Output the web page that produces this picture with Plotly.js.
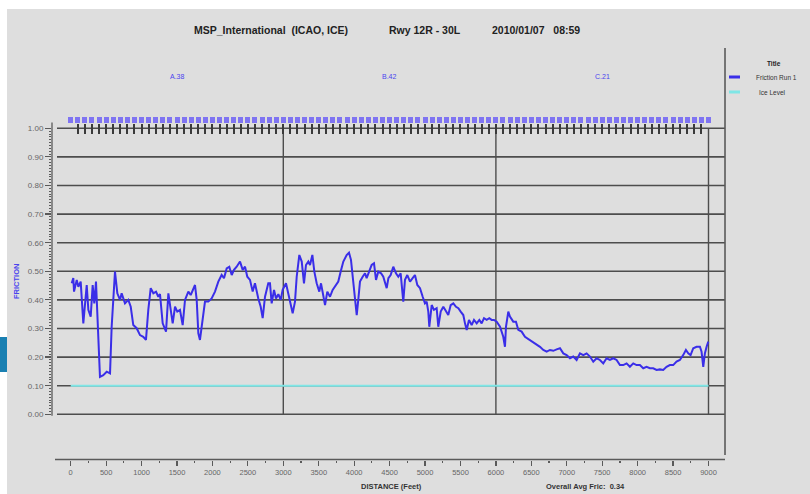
<!DOCTYPE html>
<html>
<head>
<meta charset="utf-8">
<script src="https://cdn.plot.ly/plotly-3.0.1.min.js"></script>
<style>html,body{margin:0;padding:0;background:#fff;}#chart{width:810px;height:494px;}</style>
</head>
<body>
<div id="chart"></div>
<script>
// ---- data ----
const distance = [
  14,37,47,85,108,141,178,226,249,282,
  310,333,357,390,413,460,508,555,578,625,
  658,696,719,766,813,847,883,931,978,1024,
  1062,1095,1129,1166,1204,1236,1260,1298,1345,1378,
  1401,1439,1472,1504,1542,1580,1613,1660,1693,1730,
  1754,1778,1801,1824,1862,1895,1942,1989,2036,2083,
  2130,2163,2201,2238,2272,2304,2342,2389,2427,2460,
  2492,2530,2568,2600,2647,2681,2709,2742,2788,2812,
  2836,2869,2897,2930,2963,2991,3038,3071,3104,3132,
  3165,3189,3226,3260,3292,3320,3353,3377,3410,3438,
  3471,3508,3532,3565,3589,3621,3659,3696,3729,3776,
  3810,3847,3894,3927,3955,3988,4012,4036,4060,4082,
  4120,4153,4176,4214,4247,4280,4308,4341,4379,4411,
  4459,4483,4515,4552,4590,4623,4656,4693,4717,4750,
  4788,4825,4858,4891,4929,4967,4999,5023,5046,5060,
  5094,5126,5164,5187,5221,5258,5296,5328,5362,5399,
  5437,5470,5503,5540,5564,5588,5620,5658,5691,5729,
  5766,5799,5832,5870,5907,5940,5973,6011,6058,6104,
  6128,6142,6175,6198,6245,6283,6316,6363,6410,6481,
  6551,6622,6669,6716,6763,6810,6857,6904,6951,6998,
  7045,7092,7139,7186,7233,7280,7327,7374,7421,7468,
  7515,7562,7609,7656,7703,7750,7797,7844,7891,7938,
  7985,8032,8079,8126,8173,8220,8267,8314,8361,8408,
  8455,8502,8549,8596,8643,8681,8714,8747,8785,8832,
  8879,8902,8926,8949,8973,8997
];
const frictionRun1 = [
  .458,.476,.429,.47,.446,.464,.318,.452,.365,.341,
  .452,.388,.464,.248,.131,.137,.149,.143,.306,.499,
  .423,.40,.423,.388,.40,.376,.312,.301,.277,.271,
  .26,.365,.441,.423,.429,.411,.42,.318,.289,.423,
  .376,.318,.376,.359,.365,.312,.40,.429,.417,.441,
  .452,.40,.283,.26,.33,.394,.394,.405,.429,.464,
  .487,.476,.51,.516,.487,.505,.516,.534,.505,.516,
  .481,.47,.429,.458,.405,.376,.336,.411,.458,.458,
  .388,.435,.405,.42,.40,.435,.458,.423,.382,.353,
  .394,.481,.557,.534,.458,.522,.534,.522,.557,.499,
  .458,.429,.458,.417,.382,.429,.411,.435,.446,.464,
  .499,.534,.557,.565,.54,.47,.405,.347,.405,.464,
  .481,.493,.476,.499,.522,.528,.47,.499,.493,.481,
  .441,.476,.487,.516,.493,.481,.493,.394,.47,.487,
  .464,.476,.487,.452,.441,.411,.388,.394,.359,.306,
  .382,.365,.371,.306,.359,.376,.359,.347,.382,.388,
  .376,.371,.359,.347,.318,.295,.33,.312,.33,.318,
  .33,.318,.336,.33,.336,.33,.33,.324,.306,.271,
  .236,.306,.359,.342,.324,.324,.295,.289,.271,.26,
  .248,.236,.225,.219,.225,.222,.227,.231,.213,.207,
  .196,.202,.19,.213,.207,.213,.202,.184,.196,.19,
  .178,.196,.19,.196,.19,.172,.172,.178,.166,.178,
  .172,.172,.161,.166,.161,.161,.155,.157,.155,.166,
  .172,.172,.184,.19,.207,.225,.213,.207,.231,.236,
  .236,.219,.166,.213,.236,.254
];
const iceDistance = [0, 9000];
const iceLevel = [0.10, 0.10];
const sectionLabels = ["A.38", "B.42", "C.21"];
const sectionCenters = [1500, 4500, 7500];
const verticalGrid = [3000, 6000, 9000];
const yTicks = [0, 0.1, 0.2, 0.3, 0.4, 0.5, 0.6, 0.7, 0.8, 0.9, 1.0];
const titleParts = ["MSP_International\u00a0 (ICAO, ICE)", "Rwy 12R - 30L", "2010/01/07\u00a0\u00a0 08:59"];
const avgText = "Overall Avg Fric:\u00a0 0.34";

// ---- pixel helpers (plot area: left 52, right 725, top 40, bottom 460) ----
const L = 52, R = 725, T = 40, B = 460;
const px = x => (x - L) / (R - L);
const py = y => (B - y) / (B - T);

const FONT = "Liberation Sans, Arial, sans-serif";
const gridColor = "#4d4d4d";
const axisColor = "#5a5a5a";

const shapes = [];
shapes.push({type:"rect", xref:"paper", yref:"paper", x0:-0.2, x1:1.3, y0:py(9), y1:1.3, fillcolor:"#ffffff", line:{width:0}, layer:"below"});
shapes.push({type:"rect", xref:"paper", yref:"paper", x0:-0.2, x1:px(7), y0:-0.2, y1:1.3, fillcolor:"#ffffff", line:{width:0}, layer:"below"});
shapes.push({type:"rect", xref:"paper", yref:"paper", x0:-0.2, x1:px(7), y0:py(372), y1:py(337), fillcolor:"#1a80b2", line:{width:0}, layer:"below"});
yTicks.forEach(v => shapes.push({type:"line", xref:"paper", yref:"y", x0:px(57), x1:1, y0:v, y1:v, line:{color:gridColor, width:1.6}, layer:"below"}));
verticalGrid.forEach(v => shapes.push({type:"line", xref:"x", yref:"y", x0:v, x1:v, y0:0, y1:1, line:{color:gridColor, width:1.4}, layer:"below"}));
shapes.push({type:"line", xref:"paper", yref:"y", x0:0, x1:0, y0:-0.005, y1:1.02, line:{color:axisColor, width:1.3}});
shapes.push({type:"line", xref:"paper", yref:"paper", x0:px(55), x1:1, y0:py(459.5), y1:py(459.5), line:{color:axisColor, width:1.6}});
shapes.push({type:"line", xref:"paper", yref:"paper", x0:1, x1:1, y0:py(455), y1:py(48), line:{color:axisColor, width:1.6}});
shapes.push({type:"line", xref:"paper", yref:"paper", x0:px(729), x1:px(740), y0:py(77), y1:py(77), line:{color:"#3a2ee8", width:3}});
shapes.push({type:"line", xref:"paper", yref:"paper", x0:px(729), x1:px(740), y0:py(92), y1:py(92), line:{color:"#7fe6e6", width:3}});

const yMinor = []; for (let i = 0; i <= 100; i++) if (i % 10) yMinor.push(i / 100);
const xMinor = []; for (let v = 250; v < 9000; v += 500) xMinor.push(v);

const annotations = [];
const tx = [192, 387, 490];
titleParts.forEach((t, i) => annotations.push({xref:"paper", yref:"paper", x:px(tx[i]), y:py(30), xanchor:"left", yanchor:"middle", text:"<b>"+t+"</b>", showarrow:false, font:{family:FONT, size:10.5, color:"#222"}}));
sectionLabels.forEach((t, i) => annotations.push({xref:"x", yref:"paper", x:sectionCenters[i], y:py(76), xanchor:"center", yanchor:"middle", text:t, showarrow:false, font:{family:FONT, size:7, color:"#4a44ee"}}));
annotations.push({xref:"paper", yref:"paper", x:px(16), y:py(282), text:"<b>FRICTION</b>", textangle:-90, showarrow:false, xanchor:"center", yanchor:"middle", font:{family:FONT, size:7.5, color:"#4a44ee"}});
annotations.push({xref:"paper", yref:"paper", x:px(391), y:py(486), text:"<b>DISTANCE (Feet)</b>", showarrow:false, xanchor:"center", yanchor:"middle", font:{family:FONT, size:7.5, color:"#333"}});
annotations.push({xref:"paper", yref:"paper", x:px(585), y:py(486), text:"<b>"+avgText+"</b>", showarrow:false, xanchor:"center", yanchor:"middle", font:{family:FONT, size:7.5, color:"#333"}});
annotations.push({xref:"paper", yref:"paper", x:px(774), y:py(63), text:"<b>Title</b>", showarrow:false, xanchor:"center", yanchor:"middle", font:{family:FONT, size:6.5, color:"#222"}});
annotations.push({xref:"paper", yref:"paper", x:px(776), y:py(77), text:"Friction Run 1", showarrow:false, xanchor:"center", yanchor:"middle", font:{family:FONT, size:6.5, color:"#333"}});
annotations.push({xref:"paper", yref:"paper", x:px(772), y:py(92), text:"Ice Level", showarrow:false, xanchor:"center", yanchor:"middle", font:{family:FONT, size:6.5, color:"#333"}});

const traces = [
  {x: iceDistance, y: iceLevel, type:"scatter", mode:"lines", name:"Ice Level", line:{color:"#7fe6e6", width:2}, hoverinfo:"skip"},
  {x: distance, y: frictionRun1, type:"scatter", mode:"lines", name:"Friction Run 1", line:{color:"#3a2ee8", width:2}},
  {x: [], y: [], xaxis:"x2", yaxis:"y", type:"scatter", mode:"lines", showlegend:false, hoverinfo:"skip"},
  {x: [], y: [], xaxis:"x3", yaxis:"y", type:"scatter", mode:"lines", showlegend:false, hoverinfo:"skip"}
];

const segDomain = [px(70.7), px(708.5)];
const layout = {
  width: 810, height: 494,
  margin: {l: L, r: 810 - R, t: T, b: 494 - B, pad: 0},
  paper_bgcolor: "#dedede",
  plot_bgcolor: "rgba(0,0,0,0)",
  showlegend: false,
  xaxis: {
    range: [-263.9, 9232.8], showgrid:false, zeroline:false, showline:false,
    tickmode:"linear", tick0:0, dtick:500, ticks:"outside", ticklen:5, tickwidth:1.2, tickcolor:axisColor,
    minor: {tickmode:"array", tickvals:xMinor, ticks:"outside", ticklen:2, tickwidth:1.2, tickcolor:axisColor},
    tickfont:{family:FONT, size:7.5, color:"#666"}, fixedrange:true
  },
  xaxis2: {
    domain: segDomain, range:[0, 9000], anchor:"free", position: py(123), side:"top",
    tickmode:"linear", tick0:0, dtick:100, ticks:"inside", ticklen:10, tickwidth:2, tickcolor:"#3a3a3a",
    showticklabels:false, showgrid:false, zeroline:false, showline:false, fixedrange:true
  },
  xaxis3: {
    domain: segDomain, range:[0, 9000], anchor:"free", position: py(123), side:"top",
    tickmode:"linear", tick0:0, dtick:100, ticks:"outside", ticklen:6, tickwidth:5, tickcolor:"#7f74f2",
    showticklabels:false, showgrid:false, zeroline:false, showline:false, fixedrange:true
  },
  yaxis: {
    range: [-0.1598, 1.3087], showgrid:false, zeroline:false, showline:false,
    tickmode:"array", tickvals:yTicks, tickformat:".2f", ticks:"outside", ticklen:6, tickwidth:1.2, tickcolor:axisColor,
    minor: {tickmode:"array", tickvals:yMinor, ticks:"outside", ticklen:2, tickwidth:1, tickcolor:axisColor},
    tickfont:{family:FONT, size:8, color:"#666"}, fixedrange:true
  },
  shapes: shapes,
  annotations: annotations
};

Plotly.newPlot("chart", traces, layout, {displayModeBar:false, staticPlot:true});
</script>
</body>
</html>
